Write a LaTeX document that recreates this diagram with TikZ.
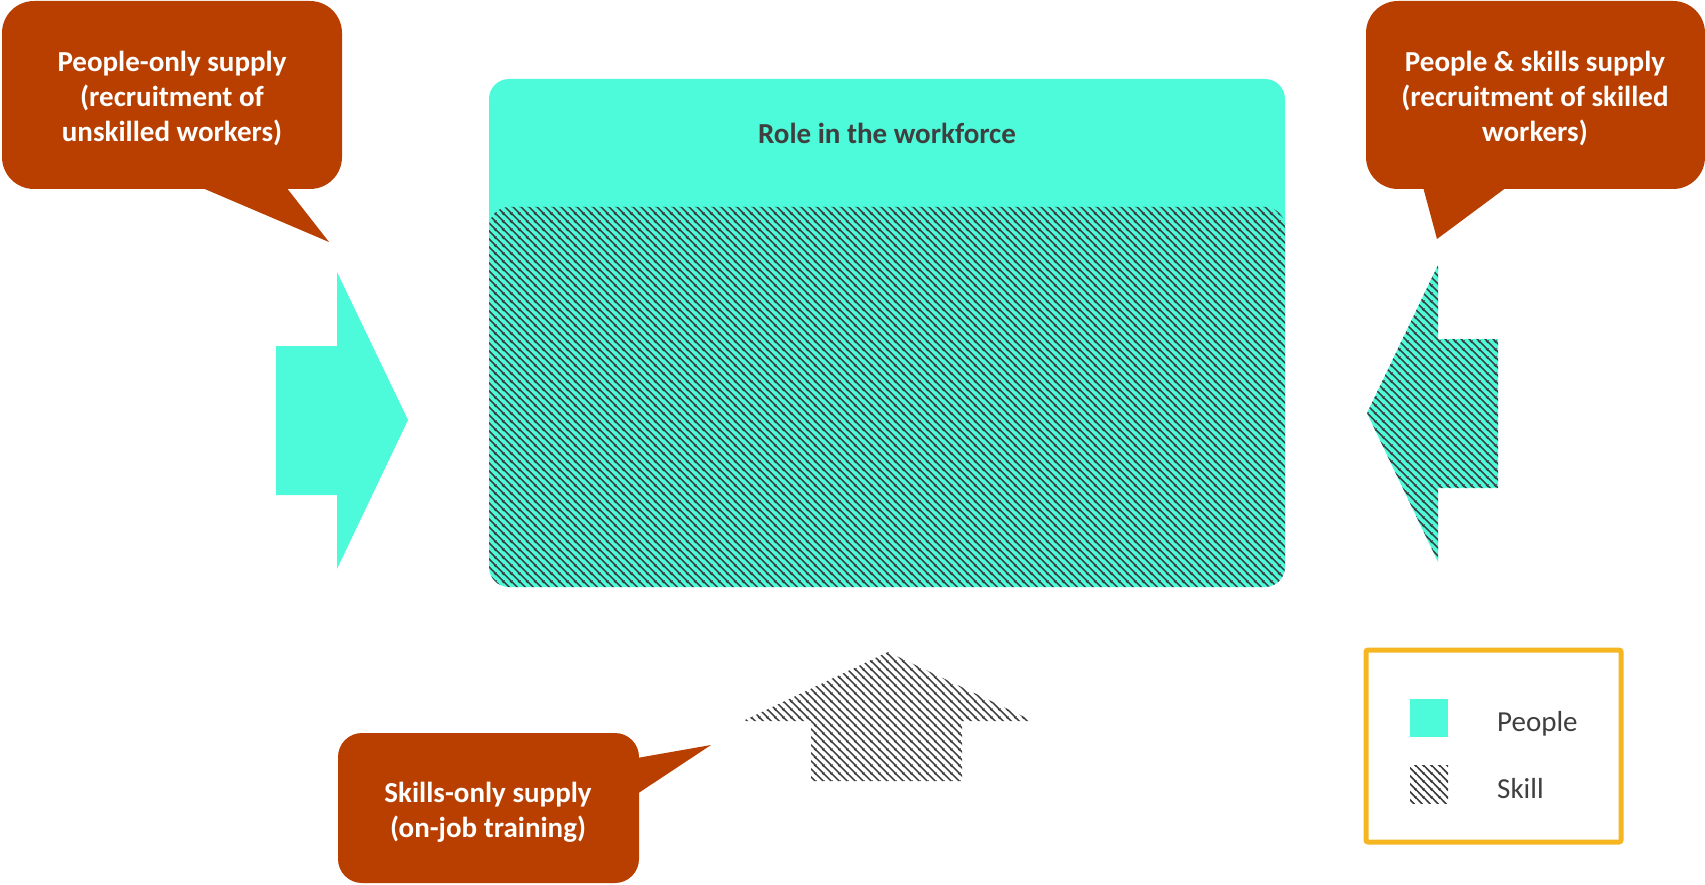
\documentclass[tikz,border=0pt]{standalone}
\usepackage{fontspec}
\setmainfont{Carlito}
\usetikzlibrary{patterns.meta}
\definecolor{peoplec}{HTML}{4DFADA}
\definecolor{rust}{HTML}{B83F00}
\definecolor{hatchc}{HTML}{383838}
\definecolor{gold}{HTML}{F5B622}
\definecolor{txt}{HTML}{3F3F3F}
\tikzdeclarepattern{
  name=skillhatch, type=uncolored,
  bottom left={(0pt,0pt)}, top right={(8pt,8pt)}, tile size={(8pt,8pt)},
  code={
    \draw[line width=1.6pt] (-1pt,9pt) -- (9pt,-1pt);
    \draw[line width=1.6pt] (-1pt,1pt) -- (1pt,-1pt);
    \draw[line width=1.6pt] (7pt,9pt) -- (9pt,7pt);
  }}
\tikzset{
  people/.style={fill=peoplec},
  skill/.style={pattern={skillhatch}, pattern color=hatchc},
  bubble/.style={fill=rust},
  calltext/.style={align=center, text=white, font=\bfseries\fontsize{29}{35.3}\selectfont, inner sep=0pt},
  legtext/.style={anchor=west, text=txt, font=\fontsize{29}{34.8}\selectfont, inner sep=0pt},
}
\begin{document}
\begin{tikzpicture}[x=1pt,y=-1pt]
\useasboundingbox (0,0) rectangle (1705,885);

% main role box
\fill[people, rounded corners=20pt] (489,79) rectangle (1285,587);
\fill[skill, rounded corners=20pt] (489,207) rectangle (1285,587);
\node[font=\bfseries\fontsize{29}{34.8}\selectfont, text=txt, inner sep=0pt] (role) at (887,133) {Role in the workforce};

% left arrow (people only)
\fill[people] (276,346) -- (337,346) -- (337,272) -- (408,420) -- (337,569) -- (337,495) -- (276,495) -- cycle;

% right arrow (people & skills)
\fill[people] (1498,339) -- (1438,339) -- (1438,265) -- (1367,413) -- (1438,562) -- (1438,488) -- (1498,488) -- cycle;
\fill[skill] (1498,339) -- (1438,339) -- (1438,265) -- (1367,413) -- (1438,562) -- (1438,488) -- (1498,488) -- cycle;

% up arrow (skills only)
\fill[skill] (811,781) -- (811,721) -- (743,721) -- (888,652) -- (1033,721) -- (962,721) -- (962,781) -- cycle;

% top-left callout
\fill[bubble, rounded corners=32pt] (2,1) rectangle (342,189);
\fill[bubble] (200,187) -- (329,242) -- (286,187) -- cycle;
\node[calltext] (tl) at (172,98.5) {People-only supply\\(recruitment of\\unskilled workers)};

% top-right callout
\fill[bubble, rounded corners=32pt] (1366,1) rectangle (1705,189);
\fill[bubble] (1423,187) -- (1437,239) -- (1507,187) -- cycle;
\node[calltext] (tr) at (1535,98.5) {People \& skills supply\\(recruitment of skilled\\workers)};

% bottom callout
\fill[bubble, rounded corners=24pt] (338,733) rectangle (639,883);
\fill[bubble] (637,758) -- (711,745) -- (637,794) -- cycle;
\node[calltext] (bt) at (488,812.5) {Skills-only supply\\(on-job training)};

% legend
\draw[gold, line width=5pt, rounded corners=2pt] (1366,650) rectangle (1621,842);
\fill[people] (1410,699) rectangle (1448,737);
\fill[skill] (1410,765) rectangle (1448,803);
\node[legtext] (lp) at (1497,724) {People};
\node[legtext] (ls) at (1497,789) {Skill};
\end{tikzpicture}
\end{document}
